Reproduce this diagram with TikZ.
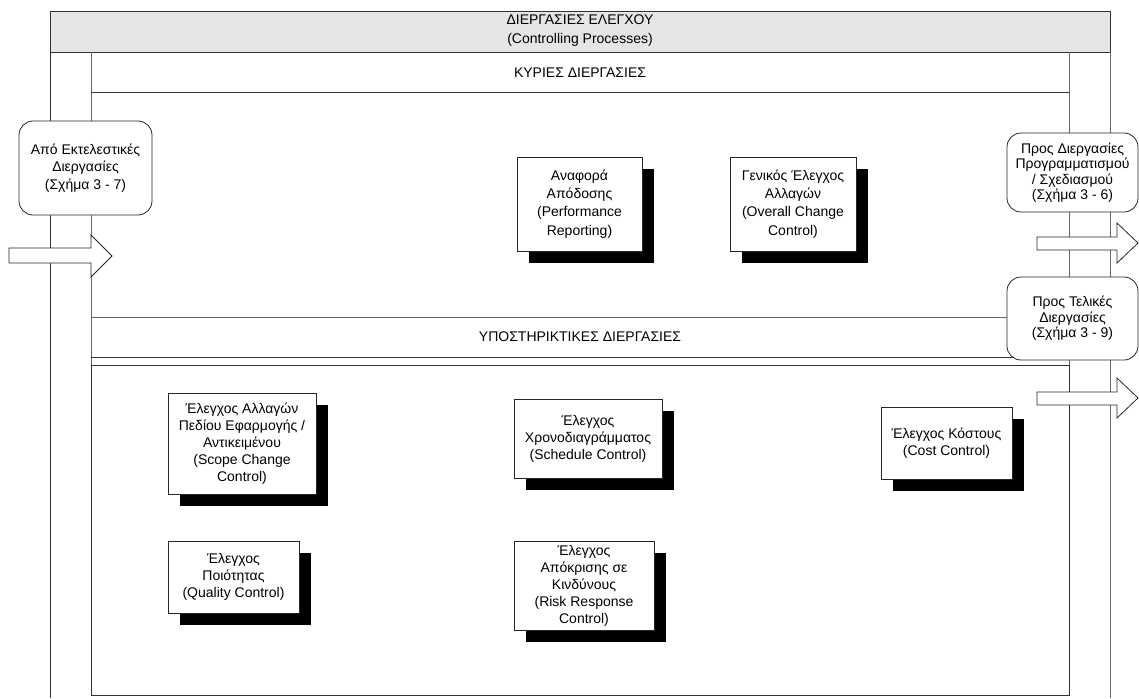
\documentclass[tikz,border=0pt]{standalone}
\usepackage{fontspec}
\setmainfont{Liberation Sans}
\usetikzlibrary{shadows}
\begin{document}
\begin{tikzpicture}[x=1pt,y={(0pt,-1pt)},
  frame/.style={draw=black!80,line width=0.9pt},
  lane/.style={draw=black!60,line width=0.9pt},
  label/.style={font=\fontsize{14}{19}\selectfont,align=center,inner sep=0pt},
  proc/.style={draw=black!85,fill=white,line width=0.8pt,
    font=\fontsize{14}{17}\selectfont,align=center,inner sep=1pt,
    drop shadow={shadow xshift=12pt,shadow yshift=-12pt,fill=black,opacity=1}},
  link/.style={draw=black!85,fill=white,line width=0.8pt,rounded corners=14pt,
    font=\fontsize{14}{15.5}\selectfont,align=center,inner sep=1pt},
  blockarrow/.style={draw=black!85,fill=white,line width=0.8pt,line join=miter}]
\useasboundingbox (0,0) rectangle (1139,698);

% outer frame: header band and side channels
\draw[frame,fill=black!10] (50,11) rectangle (1110,52);
\node[label] (hdr) at (580,31) {ΔΙΕΡΓΑΣΙΕΣ ΕΛΕΓΧΟΥ\\(Controlling Processes)};
\draw[frame] (50,52) -- (50,698);
\draw[lane] (1110,52) -- (1110,698);
\draw[lane] (91,52) -- (91,365);
\draw[lane] (1069,52) -- (1069,365);

% main processes band
\draw[frame] (91,92) -- (1069,92);
\node[label] (core) at (580,73) {ΚΥΡΙΕΣ ΔΙΕΡΓΑΣΙΕΣ};

% facilitating processes band
\draw[lane] (91,317) -- (1069,317);
\draw[frame] (91,357) -- (1069,357);
\node[label] (supp) at (580,337) {ΥΠΟΣΤΗΡΙΚΤΙΚΕΣ ΔΙΕΡΓΑΣΙΕΣ};

% facilitating processes area
\draw[frame] (91,365) rectangle (1069,695);

% links to other process groups
\node[link,minimum width=133pt,minimum height=94pt,font=\fontsize{14}{17.5}\selectfont] (from) at (85.5,168)
  {Από Εκτελεστικές\\Διεργασίες\\(Σχήμα 3 - 7)};
\node[link,minimum width=131pt,minimum height=79pt] (toplan) at (1072.5,172.5)
  {Προς Διεργασίες\\Προγραμματισμού\\/ Σχεδιασμού\\(Σχήμα 3 - 6)};
\node[link,minimum width=131pt,minimum height=83pt] (toclose) at (1072.5,318.5)
  {Προς Τελικές\\Διεργασίες\\(Σχήμα 3 - 9)};

% block arrows
\draw[blockarrow] (9,248) -- (91,248) -- (91,235) -- (112,256) -- (91,277) -- (91,263) -- (9,263) -- cycle;
\draw[blockarrow] (1037,237) -- (1117,237) -- (1117,223) -- (1138,243) -- (1117,263) -- (1117,250) -- (1037,250) -- cycle;
\draw[blockarrow] (1037,392) -- (1117,392) -- (1117,378) -- (1138,398) -- (1117,418) -- (1117,405) -- (1037,405) -- cycle;

% core processes
\node[proc,minimum width=125pt,minimum height=94pt,font=\fontsize{14}{18.3}\selectfont] (perf) at (579.5,204)
  {Αναφορά\\Απόδοσης\\(Performance\\Reporting)};
\node[proc,minimum width=126pt,minimum height=94pt,font=\fontsize{14}{18.3}\selectfont] (change) at (793,204)
  {Γενικός Έλεγχος\\Αλλαγών\\(Overall Change\\Control)};

% facilitating processes
\node[proc,minimum width=148pt,minimum height=101pt] (scope) at (242,443.5)
  {Έλεγχος Αλλαγών\\Πεδίου Εφαρμογής /\\Αντικειμένου\\(Scope Change\\Control)};
\node[proc,minimum width=148pt,minimum height=79pt] (sched) at (588,438.5)
  {Έλεγχος\\Χρονοδιαγράμματος\\(Schedule Control)};
\node[proc,minimum width=131pt,minimum height=72pt] (cost) at (946.5,443)
  {Έλεγχος Κόστους\\(Cost Control)};
\node[proc,minimum width=131pt,minimum height=72pt] (quality) at (233.5,577)
  {Έλεγχος\\Ποιότητας\\(Quality Control)};
\node[proc,minimum width=140pt,minimum height=89pt] (risk) at (584,585.5)
  {Έλεγχος\\Απόκρισης σε\\Κινδύνους\\(Risk Response\\Control)};
\end{tikzpicture}
\end{document}
